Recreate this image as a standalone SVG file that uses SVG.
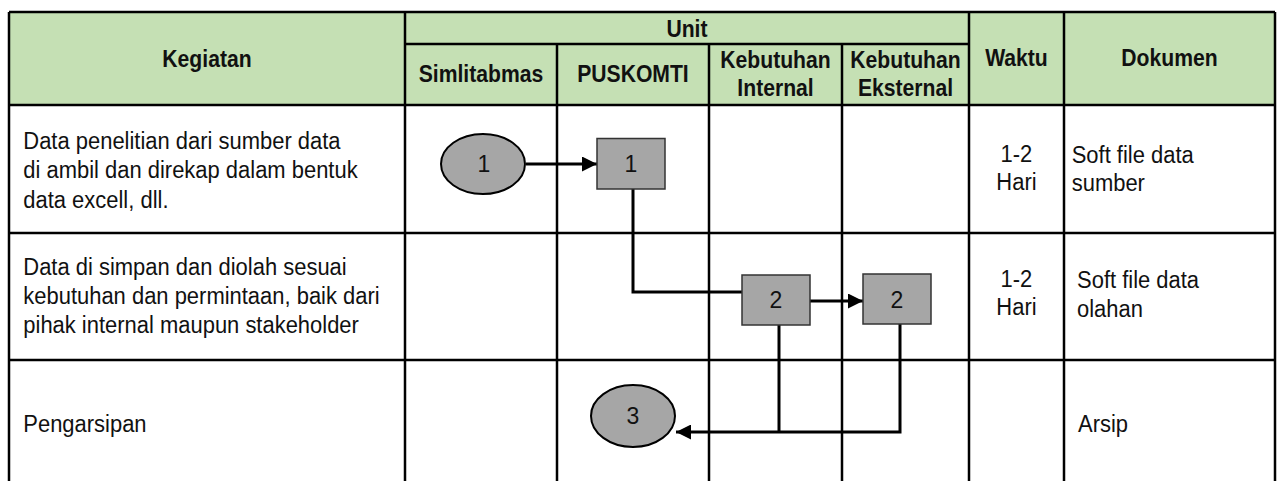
<svg xmlns="http://www.w3.org/2000/svg" width="1278" height="481" viewBox="0 0 1278 481">
<style>
.hdr{fill:#c5e0b4}
.grid{stroke:#000;stroke-width:2.5;fill:none}
.h{font-family:"Liberation Sans",Arial,sans-serif;font-weight:bold;font-size:23.5px;fill:#111;text-anchor:middle}
.b{font-family:"Liberation Sans",Arial,sans-serif;font-size:24.4px;fill:#111}
.c{text-anchor:middle}
.shape{fill:#a6a6a6;stroke:#000;stroke-width:2}
.box{fill:#a6a6a6;stroke:#333;stroke-width:1.5}
.num{font-family:"Liberation Sans",Arial,sans-serif;font-size:23px;fill:#111;text-anchor:middle}
.con{stroke:#000;stroke-width:3;fill:none}
</style>
<defs>
<marker id="arr" viewBox="0 0 10 10" refX="10" refY="5" markerWidth="5" markerHeight="5" markerUnits="strokeWidth" orient="auto">
<path d="M0,0 L10,5 L0,10 z" fill="#000"/>
</marker>
</defs>
<rect width="1278" height="481" fill="#fff"/>
<rect class="hdr" x="9" y="12" width="1266" height="93"/>
<g id="table" class="grid">
<path d="M9,12 H1275 M9,105 H1275 M9,233 H1275 M9,360 H1275 M405,44 H969"/>
<path d="M9,12 V481 M405,12 V481 M969,12 V481 M1064,12 V481 M1275,12 V481"/>
<path d="M557,44 V481 M709,44 V481 M842,44 V481"/>
</g>
<g transform="scale(0.9 1)">
<text class="h" x="230" y="67">Kegiatan</text>
<text class="h" x="763.3" y="37">Unit</text>
<text class="h" x="534.4" y="82">Simlitabmas</text>
<text class="h" x="703.3" y="82">PUSKOMTI</text>
<text class="h" x="861.7" y="68">Kebutuhan</text>
<text class="h" x="861.7" y="96">Internal</text>
<text class="h" x="1006.1" y="68">Kebutuhan</text>
<text class="h" x="1006.1" y="96">Eksternal</text>
<text class="h" x="1129.4" y="66">Waktu</text>
<text class="h" x="1299.4" y="66">Dokumen</text>
<text class="b" x="25.9" y="149">Data penelitian dari sumber data</text>
<text class="b" x="25.9" y="178.5">di ambil dan direkap dalam bentuk</text>
<text class="b" x="25.9" y="208">data excell, dll.</text>
<text class="b" x="25.9" y="275">Data di simpan dan diolah sesuai</text>
<text class="b" x="25.9" y="304">kebutuhan dan permintaan, baik dari</text>
<text class="b" x="25.9" y="333">pihak internal maupun stakeholder</text>
<text class="b" x="25.9" y="432">Pengarsipan</text>
<text class="b c" x="1129.4" y="162">1-2</text>
<text class="b c" x="1129.4" y="190">Hari</text>
<text class="b c" x="1129.4" y="287">1-2</text>
<text class="b c" x="1129.4" y="315">Hari</text>
<text class="b" x="1190.8" y="163">Soft file data</text>
<text class="b" x="1190.8" y="191">sumber</text>
<text class="b" x="1196.7" y="288">Soft file data</text>
<text class="b" x="1196.7" y="317">olahan</text>
<text class="b" x="1197.8" y="432">Arsip</text>
</g>
<g id="connectors">
<path class="con" d="M526,164 H597" marker-end="url(#arr)"/>
<path class="con" d="M633,189 V292 H742"/>
<path class="con" d="M810,301 H863" marker-end="url(#arr)"/>
<path class="con" d="M779,325 V432"/>
<path class="con" d="M900,324 V432 H676" marker-end="url(#arr)"/>
</g>
<g id="start1">
<ellipse class="shape" cx="483" cy="164" rx="42" ry="30"/>
<text class="num" x="484" y="172">1</text>
</g>
<g id="step1">
<rect class="box" x="597" y="138.5" width="68" height="50.5"/>
<text class="num" x="631" y="172">1</text>
</g>
<g id="step2a">
<rect class="box" x="742" y="275" width="68" height="50"/>
<text class="num" x="776" y="308">2</text>
</g>
<g id="step2b">
<rect class="box" x="863" y="274" width="68" height="50"/>
<text class="num" x="897" y="308">2</text>
</g>
<g id="end3">
<ellipse class="shape" cx="633" cy="416" rx="42" ry="31"/>
<text class="num" x="633" y="424">3</text>
</g>
</svg>
